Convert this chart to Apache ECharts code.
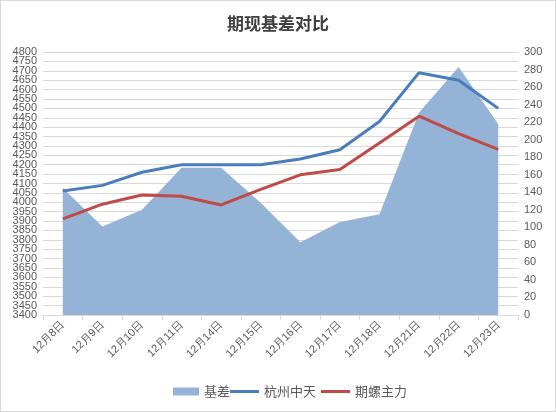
<!DOCTYPE html>
<html>
<head>
<meta charset="utf-8">
<script src="https://cdn.jsdelivr.net/npm/echarts@6/dist/echarts.min.js"></script>
<style>
  html, body { margin: 0; padding: 0; background: #fff; }
  #chart { width: 556px; height: 412px; box-sizing: border-box; border: 1px solid #d9d9d9; }
</style>
</head>
<body>
<div id="chart"></div>
<script>
const dates = ['12月8日', '12月9日', '12月10日', '12月11日', '12月14日', '12月15日',
  '12月16日', '12月17日', '12月18日', '12月21日', '12月22日', '12月23日'];
const basis = [145, 101, 120, 168, 168, 128, 83, 106, 115, 231, 283, 218];
const hangzhou = [4060, 4090, 4160, 4200, 4200, 4200, 4230, 4280, 4430, 4690, 4650, 4500];
const rebar = [3912, 3990, 4039, 4032, 3986, 4069, 4146, 4175, 4316, 4458, 4365, 4282];

const labelFont = { color: '#595959', fontSize: 11, fontFamily: 'Liberation Sans, Arial, sans-serif' };
const legendText = { fontSize: 13, color: '#595959', fontFamily: 'Noto Sans CJK SC' };

// price axis is drawn twice: inner labels on one, the two end labels on the other,
// so echarts doesn't drop 4750 / 3450 as overlapping the ends
const priceAxis = (interval, showEnds, grid) => ({
  type: 'value',
  position: 'left',
  min: 3400,
  max: 4800,
  interval: interval,
  axisLine: { show: false },
  axisTick: { show: false },
  splitLine: { show: grid, lineStyle: { color: '#d9d9d9' } },
  axisLabel: Object.assign({
    margin: 6,
    showMinLabel: showEnds,
    showMaxLabel: showEnds,
    formatter: v => String(v)
  }, labelFont)
});

const chart = echarts.init(document.getElementById('chart'), null, { renderer: 'canvas' });
chart.setOption({
  animation: false,
  title: {
    text: '期现基差对比',
    left: 'center',
    top: 9,
    textStyle: { fontSize: 17, fontWeight: 'bold', color: '#404040', fontFamily: 'Noto Sans CJK SC' }
  },
  legend: [
    {
      left: 167,
      top: 379,
      itemWidth: 26,
      itemHeight: 8,
      textStyle: legendText,
      data: [{ name: '基差', icon: 'rect' }]
    },
    {
      left: 224,
      top: 379,
      itemWidth: 29,
      itemHeight: 3,
      itemGap: 5,
      icon: 'rect',
      textStyle: legendText,
      data: ['杭州中天', '期螺主力']
    }
  ],
  grid: { left: 42, right: 37, top: 51, bottom: 96 },
  xAxis: {
    type: 'category',
    data: dates,
    boundaryGap: true,
    axisLine: { lineStyle: { color: '#d9d9d9' } },
    axisTick: { show: true, interval: 0, length: 5, lineStyle: { color: '#d9d9d9' } },
    axisLabel: Object.assign({ rotate: 45, interval: 0, margin: 8 }, labelFont)
  },
  yAxis: [
    priceAxis(50, false, true),
    {
      type: 'value',
      position: 'right',
      min: 0,
      max: 300,
      interval: 20,
      axisLine: { show: false },
      axisTick: { show: false },
      splitLine: { show: false },
      axisLabel: Object.assign({ margin: 6, showMinLabel: true, showMaxLabel: true }, labelFont)
    },
    priceAxis(1400, true, false)
  ],
  series: [
    {
      name: '基差',
      type: 'line',
      yAxisIndex: 1,
      data: basis,
      symbol: 'none',
      color: '#95b3d7',
      lineStyle: { width: 0 },
      areaStyle: { color: '#95b3d7', opacity: 1 }
    },
    {
      name: '杭州中天',
      type: 'line',
      data: hangzhou,
      symbol: 'none',
      color: '#4a7ebb',
      lineStyle: { width: 3, color: '#4a7ebb' }
    },
    {
      name: '期螺主力',
      type: 'line',
      data: rebar,
      symbol: 'none',
      color: '#be4b48',
      lineStyle: { width: 3, color: '#be4b48' }
    }
  ]
});
</script>
</body>
</html>
